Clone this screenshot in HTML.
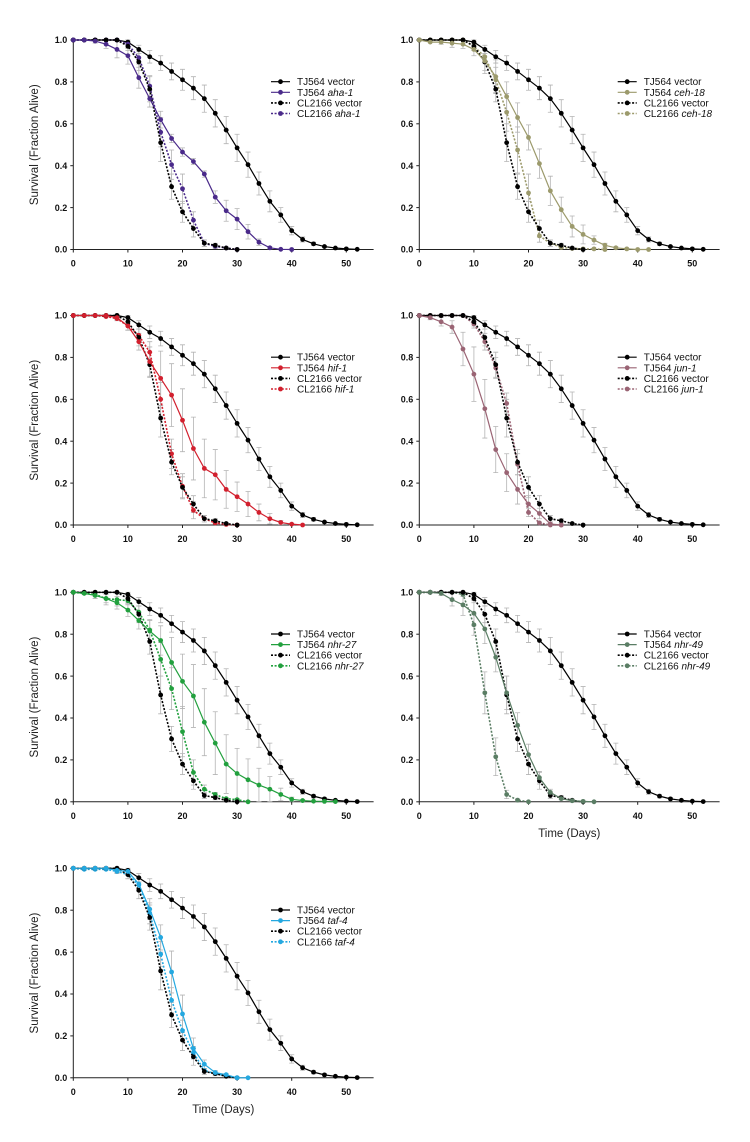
<!DOCTYPE html>
<html><head><meta charset="utf-8">
<style>
html,body{margin:0;padding:0;background:#fff;}
svg{display:block;font-family:"Liberation Sans",Arial,sans-serif;}
</style></head>
<body>
<svg id="fig" width="750" height="1142" viewBox="0 0 750 1142" xmlns="http://www.w3.org/2000/svg"></svg>
<script>
const days = [0,2,4,6,8,10,12,14,16,18,20,22,24,26,28,30,32,34,36,38,40,42,44,46,48,50,52];
const xTicks = [0,10,20,30,40,50];
const yTicks = [0,0.2,0.4,0.6,0.8,1.0];
const yTickLabels = ["0.0","0.2","0.4","0.6","0.8","1.0"];

const tjVector = [1,1,1,1,1,.99,.955,.92,.89,.85,.81,.77,.72,.65,.57,.485,.405,.315,.23,.165,.09,.048,.027,.014,.007,.003,.001];
const tjVectorErr = [0,0,0,0,0,.01,.02,.03,.035,.04,.05,.055,.065,.065,.065,.065,.06,.055,.05,.035,.02,.012,.008,.005,.003,.002,0];
const clVector = [1,1,1,1,1,.97,.895,.765,.51,.30,.18,.10,.03,.02,.007,0];
const clVectorErr = [0,0,0,0,0,.02,.04,.06,.09,.06,.05,.04,.015,.01,.005,0];

const ahaTJ = [1,1,.995,.98,.955,.925,.82,.72,.62,.53,.465,.42,.36,.25,.185,.145,.085,.035,.008,.001,0];
const ahaTJErr = [0,0,.01,.02,.04,.04,.05,.04,.04,.02,.02,.015,.015,.03,.05,.05,.035,.015,.005,0,0];
const ahaCL = [1,1,1,1,1,.98,.915,.78,.56,.405,.29,.14,.03,.015,.007,0];
const ahaCLErr = [0,0,0,0,0,.02,.03,.05,.07,.07,.07,.04,.015,.01,.005,0];

const cehTJ = [1,.99,.99,.985,.98,.955,.90,.825,.73,.63,.535,.41,.28,.19,.11,.072,.045,.02,.008,.003,0,0];
const cehTJErr = [0,0,.01,.02,.02,.03,.06,.08,.07,.07,.06,.07,.07,.06,.05,.045,.02,.01,.005,.002,0,0];
const cehCL = [1,1,1,1,1,.97,.92,.81,.655,.475,.27,.065,.03,.01,.005,.003,.003,0];
const cehCLErr = [0,0,0,0,0,.02,.03,.06,.09,.11,.09,.03,.015,.005,0,0,0,0];

const hifTJ = [1,1,1,1,.99,.95,.875,.78,.70,.62,.50,.365,.27,.24,.17,.135,.10,.06,.03,.012,.004,0];
const hifTJErr = [0,0,0,0,.01,.02,.04,.07,.13,.15,.15,.15,.14,.12,.09,.07,.06,.04,.025,.01,.005,0];
const hifCL = [1,1,1,.995,.985,.95,.905,.825,.60,.34,.185,.07,.03,.01,.003,0];
const hifCLErr = [0,0,0,.005,.01,.02,.03,.05,.08,.07,.06,.04,.015,.005,0,0];

const junTJ = [1,.99,.97,.945,.84,.72,.555,.36,.25,.17,.10,.055,.005,0];
const junTJErr = [0,.01,.02,.03,.08,.13,.14,.11,.09,.07,.04,.025,.005,0];
const junCL = [1,1,1,1,1,.96,.875,.75,.58,.29,.06,.01,0,0];
const junCLErr = [0,0,0,0,0,.02,.04,.05,.05,.05,.02,.005,0,0];

const nhr27TJ = [1,.995,.985,.97,.95,.915,.865,.815,.77,.665,.575,.505,.38,.28,.18,.135,.105,.08,.06,.035,.012,.006,.003,.002,.001];
const nhr27TJErr = [0,.005,.015,.03,.03,.03,.04,.05,.07,.12,.13,.15,.16,.15,.14,.12,.10,.08,.06,.03,.01,.005,0,0,0];
const nhr27CL = [1,.995,.99,.97,.965,.96,.905,.82,.68,.54,.335,.14,.06,.035,.015,.01,0];
const nhr27CLErr = [0,.005,.01,.02,.03,.02,.03,.05,.08,.1,.12,.06,.02,.01,.005,.005,0];

const nhr49TJ = [1,1,.995,.965,.94,.90,.825,.69,.52,.365,.225,.115,.045,.015,.005,.002,0];
const nhr49TJErr = [0,0,.01,.03,.05,.06,.07,.07,.08,.06,.05,.03,.015,.005,0,0,0];
const nhr49CL = [1,1,1,1,.99,.845,.52,.215,.035,.008,0];
const nhr49CLErr = [0,0,0,0,.01,.05,.1,.09,.02,.005,0];

const tafTJ = [1,1,1,1,.99,.985,.925,.805,.67,.505,.305,.14,.065,.025,.015,0,0];
const tafTJErr = [0,0,0,0,.01,.01,.03,.05,.06,.1,.09,.05,.02,.01,.005,0,0];
const tafCL = [1,.995,.995,.995,.985,.97,.92,.785,.59,.37,.225,.12,.035,.02,.01,0];
const tafCLErr = [0,.005,.005,.005,.01,.02,.03,.05,.06,.06,.05,.03,.01,.005,0,0];

const panels = [
 {col:0,row:0,gene:"aha-1",color:"#4a2a8a",tj:ahaTJ,tje:ahaTJErr,cl:ahaCL,cle:ahaCLErr,xt:false},
 {col:1,row:0,gene:"ceh-18",color:"#9c9a6c",tj:cehTJ,tje:cehTJErr,cl:cehCL,cle:cehCLErr,xt:false},
 {col:0,row:1,gene:"hif-1",color:"#d2202e",tj:hifTJ,tje:hifTJErr,cl:hifCL,cle:hifCLErr,xt:false},
 {col:1,row:1,gene:"jun-1",color:"#9a6474",tj:junTJ,tje:junTJErr,cl:junCL,cle:junCLErr,xt:false},
 {col:0,row:2,gene:"nhr-27",color:"#22a03e",tj:nhr27TJ,tje:nhr27TJErr,cl:nhr27CL,cle:nhr27CLErr,xt:false},
 {col:1,row:2,gene:"nhr-49",color:"#5a7d64",tj:nhr49TJ,tje:nhr49TJErr,cl:nhr49CL,cle:nhr49CLErr,xt:true},
 {col:0,row:3,gene:"taf-4",color:"#24a8e0",tj:tafTJ,tje:tafTJErr,cl:tafCL,cle:tafCLErr,xt:true}
];

const NS="http://www.w3.org/2000/svg";
const svg=document.getElementById('fig');
const colX0=[73.3,419.3];
const rowTop=[40,315.5,592.3,868.3];
const PH=209.5, PXD=5.46;
function mk(tag,attrs,parent){const e=document.createElementNS(NS,tag);for(const k in attrs)e.setAttribute(k,attrs[k]);parent.appendChild(e);return e;}

panels.forEach(p=>{
  const x0=colX0[p.col], top=rowTop[p.row], bot=top+PH;
  const X=d=>x0+d*PXD, Y=v=>bot-v*PH;
  const g=mk('g',{},svg);
  
  
  // axes
  const ax=mk('path',{d:`M${x0},${top} L${x0},${bot} L${X(55)},${bot}`,fill:'none',stroke:'#222','stroke-width':1},g);
  
  
  yTicks.forEach((v,i)=>{
    mk('line',{x1:x0-3,x2:x0,y1:Y(v),y2:Y(v),stroke:'#222','stroke-width':1},g);
    const t=mk('text',{x:x0-6,y:Y(v)+3.2,'text-anchor':'end','font-size':9,'font-weight':'bold',fill:'#111'},g);
    t.textContent=yTickLabels[i];
    
    
  });
  xTicks.forEach(d=>{
    mk('line',{x1:X(d),x2:X(d),y1:bot,y2:bot+3,stroke:'#222','stroke-width':1},g);
    const t=mk('text',{x:X(d),y:bot+17,'text-anchor':'middle','font-size':9,'font-weight':'bold',fill:'#111'},g);
    t.textContent=d;
    
    
  });
  if(p.col===0){
    const cy=(top+bot)/2;
    const t=mk('text',{x:38,y:cy,'text-anchor':'middle','font-size':11.5,fill:'#222',transform:`rotate(-90 38 ${cy})`},g);
    t.textContent='Survival (Fraction Alive)';
    
    
  }
  if(p.xt){
    const t=mk('text',{x:x0+150,y:bot+35,'text-anchor':'middle','font-size':11.5,fill:'#222'},g);
    t.textContent='Time (Days)';
    
    
  }
  const series=[
    {v:tjVector,e:tjVectorErr,c:'#000',dash:null,name:'tj564-vector'},
    {v:p.cl,e:p.cle,c:p.color,dash:'2,1.6',name:'cl2166-'+p.gene},
    {v:clVector,e:clVectorErr,c:'#000',dash:'2,1.6',name:'cl2166-vector'},
    {v:p.tj,e:p.tje,c:p.color,dash:null,name:'tj564-'+p.gene}
  ];
  // error bars first
  series.forEach(s=>{
    s.v.forEach((v,i)=>{
      const er=s.e[i]; if(!er) return;
      const x=X(days[i]);
      const eb=mk('path',{d:`M${x},${Y(v-er)} L${x},${Y(v+er)} M${x-2.5},${Y(v-er)} L${x+2.5},${Y(v-er)} M${x-2.5},${Y(v+er)} L${x+2.5},${Y(v+er)}`,stroke:'#b4b4b4','stroke-width':0.8,fill:'none'},g);
      
      
    });
  });
  series.forEach(s=>{
    const d=s.v.map((v,i)=>(i?'L':'M')+X(days[i]).toFixed(2)+','+Y(v).toFixed(2)).join(' ');
    const a={d:d,fill:'none',stroke:s.c,'stroke-width':s.dash?1.6:1.2};
    if(s.dash)a['stroke-dasharray']=s.dash;
    const ln=mk('path',a,g);
    
    
    s.v.forEach((v,i)=>{
      const c=mk('circle',{cx:X(days[i]),cy:Y(v),r:2.4,fill:s.c},g);
      
      
    });
  });
  // legend
  const lx=p.col===0?271:617.7, ly0=top+41.7, sp=10.6;
  const leg=[
    {c:'#000',dash:null,pre:'TJ564 ',it:'vector',ital:false},
    {c:p.color,dash:null,pre:'TJ564 ',it:p.gene,ital:true},
    {c:'#000',dash:'2,1.6',pre:'CL2166 ',it:'vector',ital:false},
    {c:p.color,dash:'2,1.6',pre:'CL2166 ',it:p.gene,ital:true}
  ];
  leg.forEach((L,i)=>{
    const y=ly0+i*sp;
    const lg=mk('g',{},g);
    
    
    const a={x1:lx,x2:lx+19,y1:y,y2:y,stroke:L.c,'stroke-width':L.dash?1.6:1.2};
    if(L.dash)a['stroke-dasharray']=L.dash;
    mk('line',a,lg);
    mk('circle',{cx:lx+9.5,cy:y,r:2.4,fill:L.c},lg);
    const t=mk('text',{x:lx+26,y:y+3.5,'font-size':10,fill:'#111'},lg);
    const s1=mk('tspan',{},t); s1.textContent=L.pre;
    const s2=mk('tspan',L.ital?{'font-style':'italic'}:{},t); s2.textContent=L.it;
  });
});
</script>
</body></html>
